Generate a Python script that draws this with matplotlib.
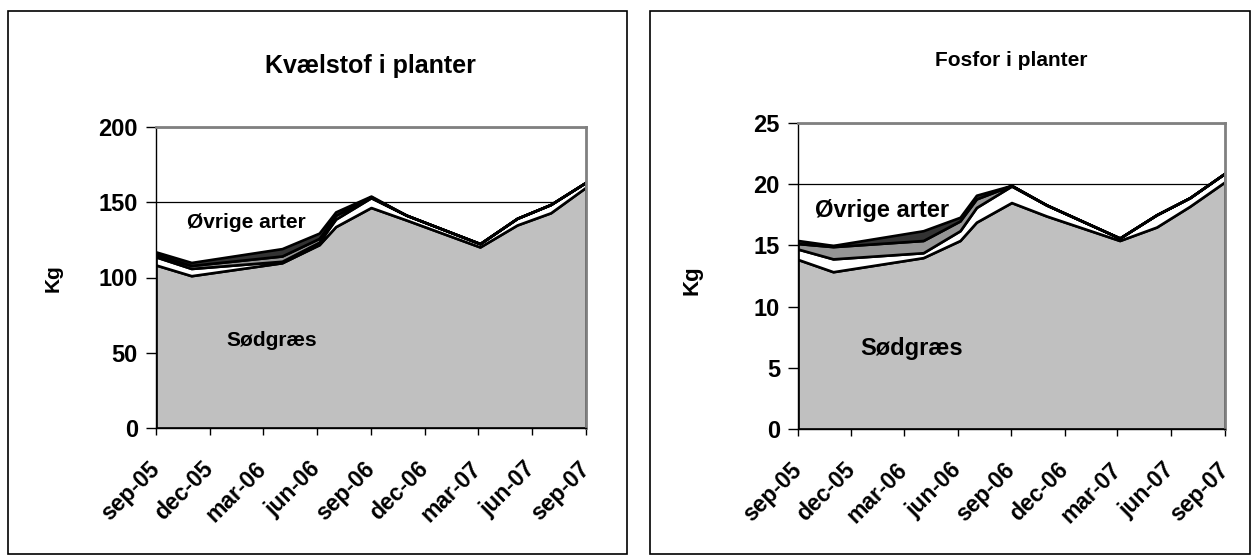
import numpy as np
import pandas as pd
import matplotlib
matplotlib.use('Agg')
import matplotlib.pyplot as plt
import matplotlib.dates as mdates
from matplotlib.patches import Rectangle

# datoer for proeverne (aflaest fra figuren)
datoer = ['2005-09-01', '2005-10-31', '2006-04-03', '2006-06-05', '2006-07-03',
          '2006-09-01', '2006-10-31', '2007-03-05', '2007-05-07', '2007-07-03', '2007-09-01']

# akse-ticks hver 3. maaned
tick_datoer = ['2005-09-01', '2005-12-01', '2006-03-01', '2006-06-01', '2006-09-01',
               '2006-12-01', '2007-03-01', '2007-06-01', '2007-09-01']
tick_tekst = ['sep-05', 'dec-05', 'mar-06', 'jun-06', 'sep-06', 'dec-06', 'mar-07', 'jun-07', 'sep-07']

# Kvaelstof (kg) - lag nedefra og op
kv_soedgraes = [108.3, 101.2, 109.8, 121.8, 133.8, 146.5, 138.2, 120.3, 134.9, 143.0, 160.0]
kv_lag2 = [5.4, 4.8, 1.0, 1.7, 5.0, 6.5, 3.2, 2.2, 4.4, 5.5, 3.3]
kv_lag3 = [1.5, 2.0, 3.5, 2.5, 2.5, 0.5, 0.0, 0.0, 0.0, 0.0, 0.0]
kv_lag4 = [1.8, 2.0, 4.9, 3.5, 2.3, 0.6, 0.0, 0.0, 0.0, 0.0, 0.0]

# Fosfor (kg)
fo_soedgraes = [13.85, 12.85, 14.0, 15.4, 16.9, 18.5, 17.4, 15.4, 16.5, 18.2, 20.2]
fo_lag2 = [0.85, 1.05, 0.4, 0.8, 1.2, 1.35, 0.9, 0.2, 1.0, 0.7, 0.7]
fo_lag3 = [0.45, 1.0, 1.0, 0.8, 0.7, 0.05, 0.0, 0.0, 0.0, 0.0, 0.0]
fo_lag4 = [0.25, 0.1, 0.8, 0.3, 0.3, 0.0, 0.0, 0.0, 0.0, 0.0, 0.0]

farver = ['#c0c0c0', '#ffffff', '#969696', '#333333']

W, H = 1258, 555
plt.rcParams['font.family'] = ['Liberation Sans', 'DejaVu Sans']
plt.rcParams['font.weight'] = 'bold'

fig = plt.figure(figsize=(W / 100, H / 100), dpi=100)

x = mdates.date2num(pd.to_datetime(datoer))
tx = mdates.date2num(pd.to_datetime(tick_datoer))


def px_akse(x0, x1, y0, y1):
    # pixel-koordinater (top-venstre) -> figur-broekdel
    return [x0 / W, 1 - y1 / H, (x1 - x0) / W, (y1 - y0) / H]


def ramme(x0, x1, y0, y1):
    fig.patches.append(Rectangle((x0 / W, 1 - y1 / H), (x1 - x0) / W, (y1 - y0) / H,
                                 transform=fig.transFigure, fill=False,
                                 edgecolor='black', linewidth=1.2))


def tekst(px, py, s, fs, rot=0):
    fig.text(px / W, 1 - py / H, s, fontsize=fs, fontweight='bold',
             ha='center', va='center', rotation=rot)


def tegn(ax, lag, ymax, ystep, fs_tick, fs_x):
    ax.stackplot(x, *lag, colors=farver, edgecolor='black', linewidth=1.9, zorder=2)
    ax.set_xlim(x[0], x[-1])
    ax.set_ylim(0, ymax)
    ax.set_yticks(np.arange(0, ymax + 0.1, ystep))
    ax.set_xticks(tx)
    ax.set_xticklabels(tick_tekst, rotation=45, ha='right', va='center',
                       rotation_mode='anchor', fontsize=fs_x, fontweight='bold')
    ax.tick_params(axis='y', labelsize=fs_tick, direction='out', length=7, width=1, pad=6)
    ax.tick_params(axis='x', direction='out', length=5, width=1, pad=22)
    ax.set_axisbelow(True)
    ax.yaxis.grid(True, color='black', linewidth=0.9)
    for s in ['top', 'right']:
        ax.spines[s].set_color('#808080')
        ax.spines[s].set_linewidth(2)
    for s in ['left', 'bottom']:
        ax.spines[s].set_color('black')
        ax.spines[s].set_linewidth(1)


ramme(8, 627, 11, 554)
ramme(650, 1250, 11, 554)

ax1 = fig.add_axes(px_akse(156, 586, 127, 428))
tegn(ax1, [kv_soedgraes, kv_lag2, kv_lag3, kv_lag4], 200, 50, 17, 16.5)

ax2 = fig.add_axes(px_akse(798, 1225, 123, 429))
tegn(ax2, [fo_soedgraes, fo_lag2, fo_lag3, fo_lag4], 25, 5, 17, 16.5)

tekst(53, 278, 'Kg', 15, rot=90)
tekst(692, 280, 'Kg', 16, rot=90)

tekst(370, 66, 'Kvælstof i planter', 18)
tekst(1011, 60, 'Fosfor i planter', 15)

tekst(246, 222, 'Øvrige arter', 15)
tekst(272, 340, 'Sødgræs', 15)
tekst(882, 210, 'Øvrige arter', 17)
tekst(912, 348, 'Sødgræs', 17)

fig.savefig('out.png', dpi=100)
